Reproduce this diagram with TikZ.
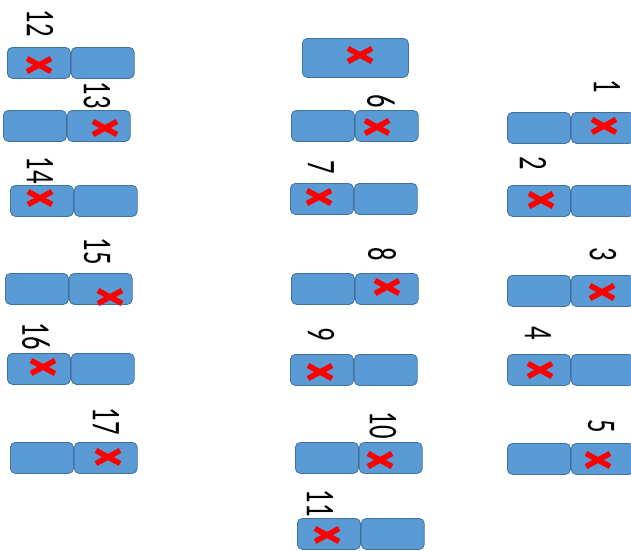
\documentclass[tikz,border=0pt]{standalone}
\usepackage{fontspec}
\setmainfont{Carlito}
\usetikzlibrary{positioning}

\definecolor{cellfill}{HTML}{5B9BD5}
\definecolor{cellline}{HTML}{41719C}
\definecolor{hitred}{HTML}{FF0000}

\tikzset{
  cell/.style={draw=cellline, fill=cellfill, line width=0.8pt, rounded corners=5pt,
    minimum width=63pt, minimum height=31pt, inner sep=0pt},
  num/.style={inner sep=0pt, font=\fontsize{26.6}{30}\selectfont, xscale=1.53, rotate=-90},
  hit/.pic={\draw[hitred, line width=5.5pt] (-12,-6.5) -- (12,6.5) (-12,6.5) -- (12,-6.5);}
}

\begin{document}
\begin{tikzpicture}[x=1pt, y=-1pt]
\useasboundingbox (0,0) rectangle (631,550);
% single box on top
\node[cell, anchor=north west, minimum width=106pt, minimum height=39pt] (T) at (302,38) {};
\pic at (360,55) {hit};
% pairs: number / left x / top y / cross x / cross y / label x / label y
\foreach \n/\x/\y/\cx/\cy/\lx/\ly in {
  1/507/112/604/126/607/86, 2/507/185/541/200/533/163, 3/507/275/602/292/603/254,
  4/507/354/540/370/538/333, 5/507/443/598/460/601/426,
  6/291/110/377/127/381/101, 7/290/183/319/197/321/167, 8/291/273/387/287/382/254,
  9/290/354/320/372/321/334, 10/295/442/380/460/383/425, 11/297/518/327/535/320/503,
  12/7/47/39/65/40/23, 13/3/110/105/128/97/95, 14/10/185/40/198/40/170,
  15/5/273/110/297/97/251, 16/7/353/43/367/36/336, 17/10/442/108/457/106/421}
{
  \node[cell, anchor=north west] (L\n) at (\x,\y) {};
  \node[cell, right=0pt of L\n] (R\n) {};
  \pic at (\cx,\cy) {hit};
  \node[num] (N\n) at (\lx,\ly) {\n};
}
\end{tikzpicture}
\end{document}
